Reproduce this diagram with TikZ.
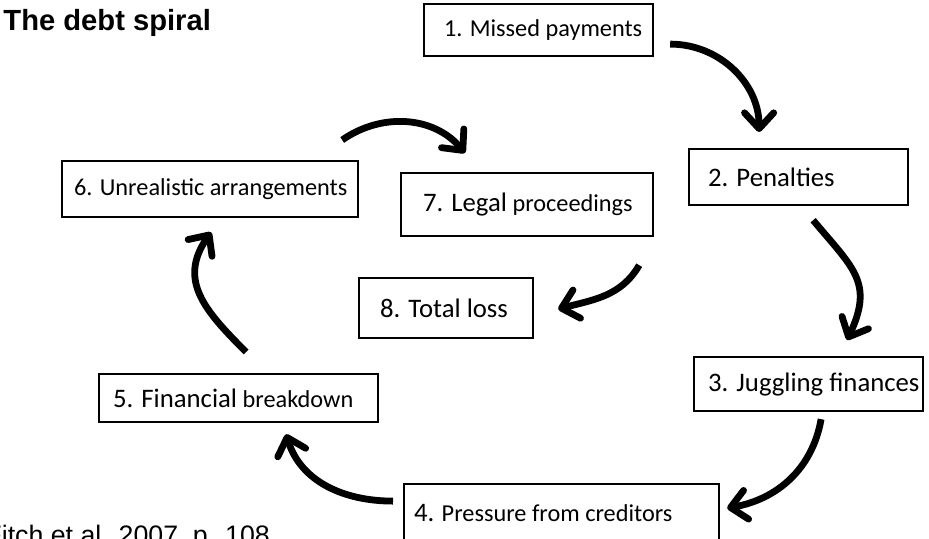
\documentclass[tikz,border=0pt]{standalone}
\usepackage{fontspec}
\setmainfont{Carlito}
\newfontfamily\arialfont{Liberation Sans}
\usetikzlibrary{arrows.meta}

\newlength{\px}
\setlength{\px}{0.4115pt}
\newcommand{\smtxt}{\fontsize{10}{12}\selectfont}
\newcommand{\lgtxt}{\fontsize{11}{13}\selectfont}
\newcommand{\boxtext}[2]{\makebox[#1\px][l]{#2}}

\begin{document}
\begin{tikzpicture}[x=\px,y=-\px,
    box/.style={draw,line width=0.9pt,anchor=north west,inner sep=0pt,font=\smtxt},
    arr/.style={line width=2.8pt,-{Straight Barb[length=6.5pt,width=12pt,round]}}]
        \path[use as bounding box,clip] (0,0) rectangle (929,538);
        \node[anchor=base west,inner sep=0pt,font=\arialfont\bfseries\fontsize{12}{14}\selectfont] (title) at (3,30) {The debt spiral};
        \node[anchor=base west,inner sep=0pt,font=\arialfont\fontsize{11}{13}\selectfont] (source) at (-15,544) {Fitch et al. 2007, p. 108};
        % the eight steps
        \node[box,minimum width=229\px,minimum height=52\px] (m1) at (423,3) {\boxtext{189}{1. Missed payments}};
        \node[box,minimum width=219\px,minimum height=56\px] (m2) at (688,148) {\boxtext{181}{\lgtxt 2. Penalties}};
        \node[box,minimum width=229\px,minimum height=54\px] (m3) at (693,356) {\boxtext{201}{\lgtxt 3. Juggling finances}};
        \node[box,minimum width=315\px,minimum height=58\px] (m4) at (403,483) {\boxtext{295}{{\lgtxt 4.} Pressure from creditors}};
        \node[box,minimum width=279\px,minimum height=48\px] (m5) at (98,373) {\boxtext{251}{{\lgtxt 5. Financial} breakdown}};
        \node[box,minimum width=296\px,minimum height=56\px] (m6) at (61,160) {\boxtext{272}{6. Unrealistic arrangements}};
        \node[box,minimum width=252\px,minimum height=63\px] (m7) at (400,172) {\boxtext{208}{{\lgtxt 7. Legal} proceedings}};
        \node[box,minimum width=174\px,minimum height=60\px] (m8) at (358,277) {\boxtext{132}{\lgtxt 8. Total loss}};
        % curved arrows
        \draw[arr] ([shift={(16,14)}]m1.east) to[out=0,in=90] ([shift={(-39.5,-16)}]m2.north);
        \draw[arr] ([shift={(14.5,14)}]m2.south) to[out=-50,in=65,looseness=1.3] ([shift={(38.5,-16)}]m3.north);
        \draw[arr] ([shift={(12.5,7)}]m3.south) to[out=-100,in=10] ([shift={(7,-5)}]m4.east);
        \draw[arr] ([shift={(-10,-12)}]m4.west) to[out=180,in=-73] ([shift={(47.5,11)}]m5.south);
        \draw[arr] ([shift={(7.5,-21)}]m5.north) to[out=135,in=-125,looseness=1.2] ([shift={(1,14)}]m6.south);
        \draw[arr] ([shift={(-17,-20)}]m6.north east) to[out=35,in=130] ([shift={(65,-19)}]m7.north west);
        \draw[arr] ([shift={(-15,28)}]m7.south east) to[out=-120,in=15] ([shift={(24,1)}]m8.east);
    \end{tikzpicture}
\end{document}
